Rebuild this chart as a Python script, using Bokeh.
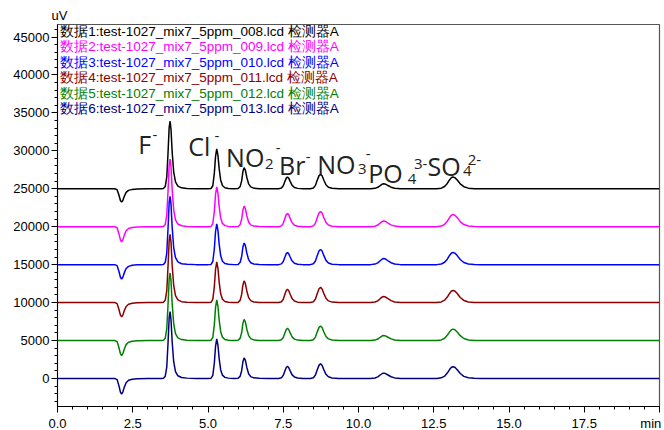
from bokeh.plotting import figure
from bokeh.models import (Range1d, FixedTicker, NumeralTickFormatter, Label, LinearAxis,
                          CustomLabelingPolicy)
from bokeh.embed import file_html
from bokeh.resources import INLINE

# ---------------- data ----------------
time_min = [
    0.0, 1.90, 1.98, 2.04, 2.09, 2.13, 2.17, 2.22, 2.28, 2.36, 2.48, 2.65, 3.00,
    3.45, 3.52, 3.58, 3.63, 3.67, 3.71, 3.74, 3.77, 3.81, 3.86, 3.92, 4.00, 4.12, 4.30, 4.60,
    5.00, 5.10, 5.16, 5.21, 5.25, 5.29, 5.33, 5.37, 5.42, 5.48, 5.56, 5.68, 5.85,
    6.00, 6.07, 6.12, 6.16, 6.20, 6.24, 6.29, 6.35, 6.42, 6.52, 6.70, 7.00,
    7.35, 7.44, 7.50, 7.56, 7.60, 7.64, 7.68, 7.73, 7.79, 7.87, 7.98, 8.15,
    8.40, 8.50, 8.57, 8.63, 8.69, 8.74, 8.79, 8.85, 8.92, 9.00, 9.12, 9.35,
    10.40, 10.55, 10.64, 10.72, 10.79, 10.84, 10.90, 10.98, 11.08, 11.20, 11.40,
    12.60, 12.75, 12.86, 12.95, 13.03, 13.09, 13.14, 13.20, 13.28, 13.38, 13.50, 13.65, 13.85, 14.10,
    20.0,
]

trace_008 = [
    0, 0, -130, -820, -1550, -1760, -1550, -990, -480, -215, -85, -25, 0,
    0, 30, 300, 1520, 4550, 8100, 8900, 7900, 4850, 2230, 910, 350, 120, 40, 0,
    0, 30, 400, 2020, 4240, 5250, 4440, 2680, 1160, 430, 140, 40, 0,
    20, 310, 1080, 2270, 2780, 2470, 1490, 640, 250, 80, 10, 0,
    0, 100, 390, 1020, 1400, 1550, 1400, 970, 480, 170, 50, 0,
    0, 100, 445, 1140, 1730, 1900, 1710, 1120, 530, 210, 60, 0,
    0, 55, 190, 425, 615, 660, 605, 425, 210, 65, 0,
    0, 80, 300, 700, 1200, 1480, 1550, 1470, 1150, 650, 270, 80, 10, 0,
    0,
]
trace_009 = [
    0, 0, -145, -920, -1740, -1980, -1740, -1110, -540, -240, -100, -30, 0,
    0, 30, 300, 1520, 4550, 8100, 8900, 7900, 4850, 2230, 910, 350, 120, 40, 0,
    0, 30, 400, 2020, 4240, 5250, 4440, 2680, 1160, 430, 140, 40, 0,
    20, 300, 1050, 2200, 2700, 2400, 1450, 620, 240, 80, 10, 0,
    0, 110, 440, 1150, 1590, 1750, 1590, 1090, 550, 200, 55, 0,
    0, 105, 470, 1200, 1820, 2000, 1800, 1180, 560, 220, 60, 0,
    0, 65, 215, 480, 695, 750, 685, 480, 235, 75, 0,
    0, 80, 310, 720, 1240, 1530, 1600, 1520, 1190, 670, 280, 80, 10, 0,
    0,
]
trace_010 = [
    0, 0, -140, -880, -1660, -1890, -1660, -1060, -520, -230, -90, -30, 0,
    0, 30, 310, 1530, 4600, 8200, 9000, 8000, 4900, 2250, 920, 360, 120, 40, 0,
    0, 30, 410, 2060, 4330, 5360, 4540, 2730, 1190, 440, 140, 40, 0,
    20, 320, 1110, 2320, 2850, 2530, 1530, 650, 250, 80, 10, 0,
    0, 100, 400, 1050, 1450, 1600, 1450, 1000, 500, 180, 50, 0,
    0, 105, 470, 1200, 1820, 2000, 1800, 1180, 560, 220, 60, 0,
    0, 70, 230, 510, 740, 800, 730, 510, 250, 80, 0,
    0, 80, 310, 720, 1240, 1530, 1600, 1520, 1190, 670, 280, 80, 10, 0,
    0,
]
trace_011 = [
    0, 0, -140, -880, -1660, -1890, -1660, -1060, -520, -230, -90, -30, 0,
    0, 30, 310, 1530, 4600, 8200, 9000, 8000, 4900, 2250, 920, 360, 120, 40, 0,
    0, 30, 410, 2060, 4330, 5360, 4540, 2730, 1190, 440, 140, 40, 0,
    20, 320, 1110, 2320, 2850, 2530, 1530, 650, 250, 80, 10, 0,
    0, 110, 440, 1150, 1590, 1750, 1590, 1090, 550, 200, 55, 0,
    0, 105, 470, 1200, 1820, 2000, 1800, 1180, 560, 220, 60, 0,
    0, 70, 230, 510, 740, 800, 730, 510, 250, 80, 0,
    0, 80, 310, 720, 1240, 1530, 1600, 1520, 1190, 670, 280, 80, 10, 0,
    0,
]
trace_012 = [
    0, 0, -145, -920, -1740, -1980, -1740, -1110, -540, -240, -100, -30, 0,
    0, 30, 300, 1520, 4550, 8100, 8900, 7900, 4850, 2230, 910, 350, 120, 40, 0,
    0, 30, 410, 2060, 4330, 5360, 4540, 2730, 1190, 440, 140, 40, 0,
    20, 310, 1080, 2270, 2780, 2470, 1490, 640, 250, 80, 10, 0,
    0, 100, 400, 1050, 1450, 1600, 1450, 1000, 500, 180, 50, 0,
    0, 100, 445, 1140, 1730, 1900, 1710, 1120, 530, 210, 60, 0,
    0, 55, 190, 425, 615, 660, 605, 425, 210, 65, 0,
    0, 75, 290, 680, 1160, 1430, 1500, 1420, 1110, 630, 260, 75, 10, 0,
    0,
]
trace_013 = [
    0, 0, -150, -950, -1800, -2050, -1800, -1150, -560, -250, -100, -30, 0,
    0, 30, 300, 1500, 4500, 8000, 8800, 7800, 4800, 2200, 900, 350, 120, 40, 0,
    0, 30, 400, 2000, 4200, 5200, 4400, 2650, 1150, 430, 140, 40, 0,
    20, 300, 1050, 2200, 2700, 2400, 1450, 620, 240, 80, 10, 0,
    0, 100, 400, 1050, 1450, 1600, 1450, 1000, 500, 180, 50, 0,
    0, 100, 450, 1150, 1750, 1920, 1730, 1130, 540, 210, 60, 0,
    0, 60, 200, 450, 650, 700, 640, 450, 220, 70, 0,
    0, 80, 300, 700, 1200, 1480, 1550, 1470, 1150, 650, 270, 80, 10, 0,
    0,
]

trace_offsets = [25000, 20000, 15000, 10000, 5000, 0]
legend_labels = [
    "数据1:test-1027_mix7_5ppm_008.lcd 检测器A",
    "数据2:test-1027_mix7_5ppm_009.lcd 检测器A",
    "数据3:test-1027_mix7_5ppm_010.lcd 检测器A",
    "数据4:test-1027_mix7_5ppm_011.lcd 检测器A",
    "数据5:test-1027_mix7_5ppm_012.lcd 检测器A",
    "数据6:test-1027_mix7_5ppm_013.lcd 检测器A",
]
x_ticks = [0.0, 2.5, 5.0, 7.5, 10.0, 12.5, 15.0, 17.5]
y_ticks = [0, 5000, 10000, 15000, 20000, 25000, 30000, 35000, 40000, 45000]
x_unit = "min"
y_unit = "uV"

# ---------------- styles / layout ----------------
trace_colors = ["#000000", "#FF00FF", "#0000FF", "#8B0000", "#008000", "#000080"]
traces = [trace_008, trace_009, trace_010, trace_011, trace_012, trace_013]
TICK_FONT = "Liberation Sans"
TICK_SIZE = "13px"

p = figure(
    frame_width=602, frame_height=382,
    x_range=Range1d(0, 20), y_range=Range1d(-3700, 46650),
    output_backend="svg", toolbar_location=None,
    min_border_left=57, min_border_right=5, min_border_top=24, min_border_bottom=24,
)
p.xgrid.visible = False
p.ygrid.visible = False
p.outline_line_color = "#555555"
p.outline_line_width = 1.2
p.background_fill_color = "white"
p.border_fill_color = "white"

# y-unit as a left-aligned title sitting just above the y axis
p.title.text = y_unit
p.title.align = "left"
p.title.offset = -6
p.title.standoff = 3
p.title.text_font = TICK_FONT
p.title.text_font_size = TICK_SIZE
p.title.text_font_style = "normal"
p.title.text_color = "black"

for trace, off, color in zip(traces, trace_offsets, trace_colors):
    ys = [off + v for v in trace]
    p.line(time_min, ys, line_color=color, line_width=1.5)

# main x axis: line + ticks only (its own labels are never drawn)
main_x = p.xaxis[0]
main_x.ticker = FixedTicker(ticks=x_ticks + [20.0], minor_ticks=[i * 0.5 for i in range(41)])
main_x.major_label_text_font_size = "0px"
main_x.major_label_standoff = 0
main_x.major_label_policy = CustomLabelingPolicy(
    code="for (const i of indices) { indices.unset(i) } return indices")
main_y = p.yaxis[0]
main_y.ticker = FixedTicker(ticks=y_ticks, minor_ticks=list(range(-3000, 46001, 1000)))
main_y.formatter = NumeralTickFormatter(format="0")
for ax in (main_x, main_y):
    ax.major_tick_in = 0
    ax.major_tick_out = 6
    ax.minor_tick_in = 0
    ax.minor_tick_out = 3
    ax.axis_line_color = "black"
    ax.major_tick_line_color = "black"
    ax.minor_tick_line_color = "black"
    ax.major_label_text_color = "black"
main_y.major_label_text_font = TICK_FONT
main_y.major_label_text_font_size = TICK_SIZE
main_y.major_label_standoff = 2

# label-only x axis (holds the numeric labels and the unit "min" at the end)
label_x = LinearAxis(
    ticker=FixedTicker(ticks=x_ticks + [19.71], minor_ticks=[]),
    formatter=NumeralTickFormatter(format="0.0"),
    major_label_overrides={19.71: x_unit},
    axis_line_color=None, major_tick_line_color=None, minor_tick_line_color=None,
    major_tick_in=0, major_tick_out=0, minor_tick_in=0, minor_tick_out=0,
    major_label_standoff=3,
    major_label_text_font=TICK_FONT, major_label_text_font_size=TICK_SIZE,
    major_label_text_color="black",
)
p.add_layout(label_x, "below")

# legend-like file labels
for i, (lab, color) in enumerate(zip(legend_labels, trace_colors)):
    p.add_layout(Label(x=0.09, y=45760 - 2044 * i, text=lab, text_align="left",
                       text_baseline="middle", text_font="Liberation Sans",
                       text_font_size="13.5px", text_color=color))

# ion peak labels: (text, x, y, size)
peak_label_layout = [
    ("F", 2.68, 30930, "25px"), ("-", 3.16, 32120, "15px"),
    ("Cl", 4.34, 30670, "25px"), ("-", 5.22, 31990, "15px"),
    ("NO", 5.60, 29220, "25px"), ("2", 6.89, 28290, "15px"), ("-", 7.25, 30400, "15px"),
    ("Br", 7.36, 28160, "25px"), ("-", 8.25, 29220, "15px"),
    ("NO", 8.63, 28300, "25px"), ("3", 9.98, 27640, "15px"), ("-", 10.24, 29610, "15px"),
    ("PO", 10.32, 27110, "25px"), ("4", 11.64, 26320, "15px"), ("3-", 11.84, 28300, "15px"),
    ("SO", 12.29, 28030, "25px"), ("4", 13.47, 27370, "15px"), ("2-", 13.63, 28820, "15px"),
]
for txt, lx, ly, size in peak_label_layout:
    p.add_layout(Label(x=lx, y=ly, text=txt, text_align="left", text_baseline="alphabetic",
                       text_font="Open Sans", text_font_size=size, text_color="#222222"))

open("out.html", "w").write(file_html(p, INLINE))
